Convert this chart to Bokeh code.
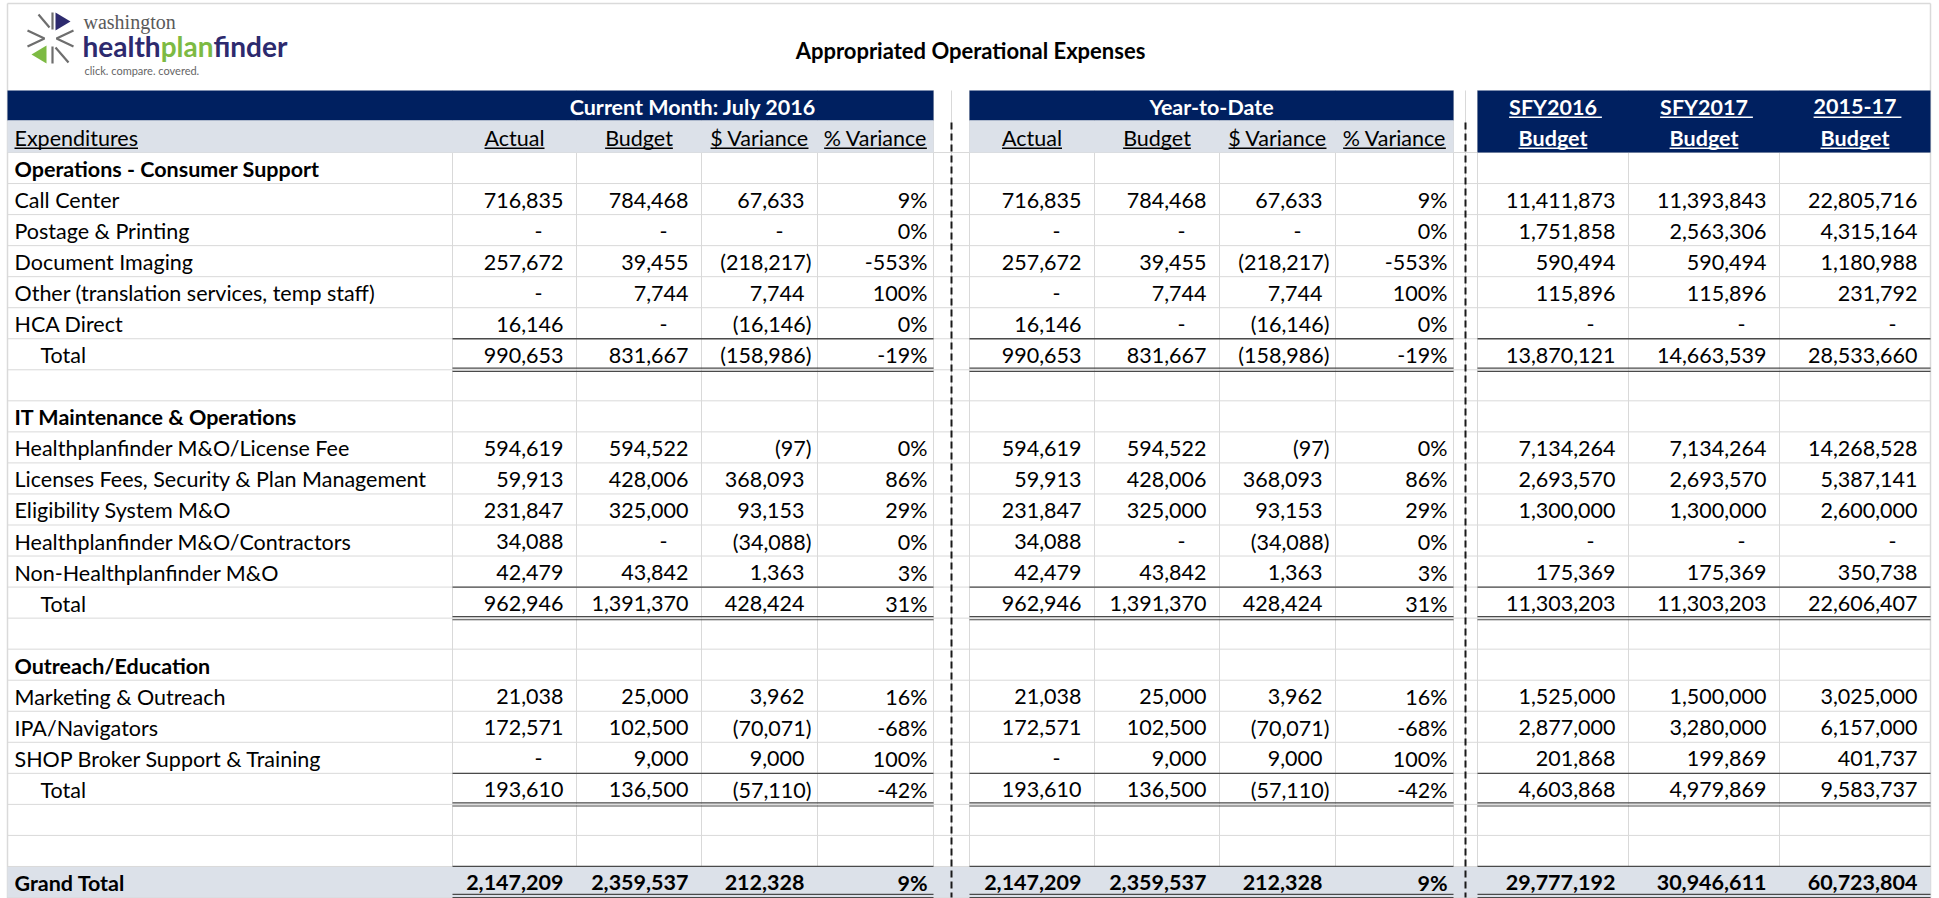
import os, glob, subprocess
from bokeh.plotting import figure
from bokeh.models import Range1d, ColumnDataSource
from bokeh.embed import file_html
from bokeh.resources import INLINE
from bokeh.core.properties import value

# ---------------- data ----------------
title = "Appropriated Operational Expenses"
group_titles = ["Current Month: July 2016", "Year-to-Date"]
col_headers = ["Actual", "Budget", "$ Variance", "% Variance"]
first_header = "Expenditures"
budget_top = ["SFY2016", "SFY2017", "2015-17"]
budget_bottom = ["Budget", "Budget", "Budget"]

row_labels = [
    "Operations - Consumer Support", "Call Center", "Postage & Printing", "Document Imaging",
    "Other (translation services, temp staff)", "HCA Direct", "Total", "",
    "IT Maintenance & Operations", "Healthplanfinder M&O/License Fee",
    "Licenses Fees, Security & Plan Management", "Eligibility System M&O",
    "Healthplanfinder M&O/Contractors", "Non-Healthplanfinder M&O", "Total", "",
    "Outreach/Education", "Marketing & Outreach", "IPA/Navigators",
    "SHOP Broker Support & Training", "Total", "", "", "Grand Total",
]
row_kind = ["section", "item", "item", "item", "item", "item", "total", "blank",
            "section", "item", "item", "item", "item", "item", "total", "blank",
            "section", "item", "item", "item", "total", "blank", "blank", "grand"]

N = None
cm_actual = [N, 716835, 0, 257672, 0, 16146, 990653, N, N, 594619, 59913, 231847, 34088, 42479, 962946, N, N, 21038, 172571, 0, 193610, N, N, 2147209]
cm_budget = [N, 784468, 0, 39455, 7744, 0, 831667, N, N, 594522, 428006, 325000, 0, 43842, 1391370, N, N, 25000, 102500, 9000, 136500, N, N, 2359537]
cm_var = [N, 67633, 0, -218217, 7744, -16146, -158986, N, N, -97, 368093, 93153, -34088, 1363, 428424, N, N, 3962, -70071, 9000, -57110, N, N, 212328]
cm_pct = [N, 9, 0, -553, 100, 0, -19, N, N, 0, 86, 29, 0, 3, 31, N, N, 16, -68, 100, -42, N, N, 9]

ytd_actual = [N, 716835, 0, 257672, 0, 16146, 990653, N, N, 594619, 59913, 231847, 34088, 42479, 962946, N, N, 21038, 172571, 0, 193610, N, N, 2147209]
ytd_budget = [N, 784468, 0, 39455, 7744, 0, 831667, N, N, 594522, 428006, 325000, 0, 43842, 1391370, N, N, 25000, 102500, 9000, 136500, N, N, 2359537]
ytd_var = [N, 67633, 0, -218217, 7744, -16146, -158986, N, N, -97, 368093, 93153, -34088, 1363, 428424, N, N, 3962, -70071, 9000, -57110, N, N, 212328]
ytd_pct = [N, 9, 0, -553, 100, 0, -19, N, N, 0, 86, 29, 0, 3, 31, N, N, 16, -68, 100, -42, N, N, 9]

sfy2016 = [N, 11411873, 1751858, 590494, 115896, 0, 13870121, N, N, 7134264, 2693570, 1300000, 0, 175369, 11303203, N, N, 1525000, 2877000, 201868, 4603868, N, N, 29777192]
sfy2017 = [N, 11393843, 2563306, 590494, 115896, 0, 14663539, N, N, 7134264, 2693570, 1300000, 0, 175369, 11303203, N, N, 1500000, 3280000, 199869, 4979869, N, N, 30946611]
b2015_17 = [N, 22805716, 4315164, 1180988, 231792, 0, 28533660, N, N, 14268528, 5387141, 2600000, 0, 350738, 22606407, N, N, 3025000, 6157000, 401737, 9583737, N, N, 60723804]

# ---------------- layout / style ----------------
FONT = "Lato"
FS = 21.5
NAVY = "#002060"
HDR_GRAY = "#DCE1E9"
GRID = "#D9D9D9"
RULE = "#4A4A4A"

X_LEFT, X_RIGHT = 7, 1930
cm_edges = [452, 576, 701, 817, 933]
ytd_edges = [969, 1094, 1219, 1335, 1453]
bud_edges = [1477, 1628, 1779, 1930]
gap_edges = [933, 951, 969, 1453, 1465, 1477]
dash_x = [951, 1465]
Y_BAND, Y_HDR, Y_ROW0, Y_END = 90, 120, 152, 897
NROWS = len(row_labels)
ROW_H = (Y_END - Y_ROW0) / NROWS


def row_top(i):
    return Y_ROW0 + i * ROW_H


def row_mid(i):
    return row_top(i) + ROW_H / 2 + 1


# ---------- font measuring (for underlines / logo word parts) ----------
def find_font(pattern, fname):
    try:
        out = subprocess.run(["fc-match", "-f", "%{file}", pattern], capture_output=True,
                             text=True, timeout=5).stdout.strip()
        if out and os.path.exists(out) and fname.split("-")[0].lower() in os.path.basename(out).lower():
            return out
    except Exception:
        pass
    for d in ["/usr/share/fonts", "/usr/local/share/fonts", os.path.expanduser("~/.fonts")]:
        hits = glob.glob(os.path.join(d, "**", fname), recursive=True)
        if hits:
            return hits[0]
    return None


_font_cache = {}


def text_w(t, size, bold=False):
    key = (bold, size)
    try:
        from PIL import ImageFont
        if key not in _font_cache:
            path = find_font("Lato:style=Bold" if bold else "Lato:style=Regular",
                             "Lato-Bold.ttf" if bold else "Lato-Regular.ttf")
            _font_cache[key] = ImageFont.truetype(path, size) if path else None
        f = _font_cache[key]
        if f is not None:
            return f.getlength(t)
    except Exception:
        pass
    return len(t) * size * (0.55 if bold else 0.5)


# ---------------- figure ----------------
p = figure(width=1939, height=898, x_range=Range1d(0, 1939), y_range=Range1d(898, 0),
           output_backend="svg", toolbar_location=None, min_border=0)
p.axis.visible = False
p.grid.visible = False
p.outline_line_color = None
p.background_fill_color = "white"
p.border_fill_color = "white"

# frame + gridlines
p.segment(x0=[X_LEFT, X_RIGHT, X_LEFT], x1=[X_LEFT, X_RIGHT, X_RIGHT], y0=[3, 3, 3], y1=[898, 898, 3],
          line_color="#DADADA", line_width=1.5)
hy = [row_top(i) for i in range(NROWS + 1)]
p.segment(x0=[X_LEFT] * len(hy), x1=[X_RIGHT] * len(hy), y0=hy, y1=hy, line_color=GRID, line_width=1)
vx = cm_edges + gap_edges + ytd_edges + bud_edges
p.segment(x0=vx, x1=vx, y0=[Y_BAND] * len(vx), y1=[Y_END] * len(vx), line_color=GRID, line_width=1)

# header fills
p.quad(left=[X_LEFT, ytd_edges[0], bud_edges[0]], right=[cm_edges[-1], ytd_edges[-1], bud_edges[-1]],
       top=[Y_BAND] * 3, bottom=[Y_HDR, Y_HDR, Y_ROW0], fill_color=NAVY, line_color=None)
p.quad(left=[X_LEFT, ytd_edges[0]], right=[cm_edges[-1], ytd_edges[-1]],
       top=[Y_HDR] * 2, bottom=[Y_ROW0] * 2, fill_color=HDR_GRAY, line_color=None)

# grand total fill
gi = row_kind.index("grand")
p.quad(left=[X_LEFT], right=[X_RIGHT], top=[row_top(gi) + 0.5], bottom=[row_top(gi + 1)],
       fill_color=HDR_GRAY, line_color=None)

# total borders
spans = [(cm_edges[0], cm_edges[-1]), (ytd_edges[0], ytd_edges[-1]), (bud_edges[0], bud_edges[-1])]
sx0, sx1, sy = [], [], []
dx0, dx1, dy = [], [], []
for i, k in enumerate(row_kind):
    if k in ("total", "grand"):
        for a, b in spans:
            sx0.append(a); sx1.append(b); sy.append(row_top(i))
            for off in (-1.6, 1.6):
                dx0.append(a); dx1.append(b); dy.append(row_top(i + 1) + off - (1.5 if k == "grand" else 0))
p.segment(x0=sx0, x1=sx1, y0=sy, y1=sy, line_color=RULE, line_width=1.3)
p.segment(x0=dx0, x1=dx1, y0=dy, y1=dy, line_color=RULE, line_width=1.2)

# dashed separators
p.segment(x0=dash_x, x1=dash_x, y0=[122, 122], y1=[Y_END, Y_END], line_color="#1A1A1A",
          line_width=2, line_dash="7 4")

# ---------------- texts ----------------
groups = {}
ul = {"x0": [], "x1": [], "y": [], "c": []}


def add_text(x, y, t, align="left", bold=False, color="#000000", size=FS, font=FONT,
             underline=False, ul_extra=0.0):
    key = (align, bold, color, size, font)
    g = groups.setdefault(key, {"x": [], "y": [], "text": []})
    g["x"].append(x); g["y"].append(y); g["text"].append(t)
    if underline:
        w = text_w(t, size, bold)
        x0 = x if align == "left" else (x - w / 2 if align == "center" else x - w)
        ul["x0"].append(x0); ul["x1"].append(x0 + w + ul_extra); ul["y"].append(y + size * 0.5)
        ul["c"].append(color)


def fmt_num(v):
    if v == 0:
        return "-"
    if v < 0:
        return "({:,})".format(-v)
    return "{:,}".format(v)


def put_num(v, right, y, bold):
    s = fmt_num(v)
    if v == 0:
        add_text(right - 38, y, s, "center", bold)
    elif v < 0:
        add_text(right - 6, y, s, "right", bold)
    else:
        add_text(right - 13, y, s, "right", bold)


# title
add_text(970, 50, title, "center", True, "#000000", 22)

# header band texts
add_text((cm_edges[0] + cm_edges[-1]) / 2, 106, group_titles[0], "center", True, "#FFFFFF")
add_text((ytd_edges[0] + ytd_edges[-1]) / 2, 106, group_titles[1], "center", True, "#FFFFFF")
add_text(14, 137, first_header, "left", underline=True)
for edges in (cm_edges, ytd_edges):
    for j, h in enumerate(col_headers):
        add_text((edges[j] + edges[j + 1]) / 2, 137, h, "center", underline=True)
for j in range(3):
    cx = (bud_edges[j] + bud_edges[j + 1]) / 2
    add_text(cx, 106, budget_top[j], "center", True, "#FFFFFF", underline=True, ul_extra=5)
    add_text(cx, 137, budget_bottom[j], "center", True, "#FFFFFF", underline=True)

# rows
num_cols = [(cm_actual, cm_edges[1]), (cm_budget, cm_edges[2]), (cm_var, cm_edges[3]),
            (ytd_actual, ytd_edges[1]), (ytd_budget, ytd_edges[2]), (ytd_var, ytd_edges[3]),
            (sfy2016, bud_edges[1]), (sfy2017, bud_edges[2]), (b2015_17, bud_edges[3])]
pct_cols = [(cm_pct, cm_edges[4]), (ytd_pct, ytd_edges[4])]
for i, lab in enumerate(row_labels):
    k = row_kind[i]
    y = row_mid(i)
    if lab:
        add_text(40 if k == "total" else 14, y, lab, "left", k in ("section", "grand"))
    bold = k == "grand"
    for arr, r in num_cols:
        if arr[i] is not None:
            put_num(arr[i], r, y, bold)
    for arr, r in pct_cols:
        if arr[i] is not None:
            add_text(r - 6, y, "{}%".format(arr[i]), "right", bold)

for key, g in groups.items():
    align, bold, color, size, font = key
    p.text(x="x", y="y", text="text", source=ColumnDataSource(g), text_align=align,
           text_baseline="middle", text_font=value(font),
           text_font_style="bold" if bold else "normal", text_color=color,
           text_font_size="{}px".format(size))
p.segment(x0=ul["x0"], x1=ul["x1"], y0=ul["y"], y1=ul["y"], line_color=ul["c"], line_width=1.4)

# ---------------- logo ----------------
LOGO_NAVY = "#2D2A6E"
LOGO_GREEN = "#7DBA43"
p.patch(x=[55, 55, 70], y=[12, 30, 21], fill_color=LOGO_NAVY, line_color=None)
p.patch(x=[46, 46, 31], y=[45, 63, 54], fill_color=LOGO_GREEN, line_color=None)
p.multi_line(xs=[[38, 49], [52, 52], [27, 44, 27], [73, 56, 73], [52, 52], [55, 68]],
             ys=[[14, 27], [12, 29], [30, 38, 46], [30, 38, 46], [46, 63], [47, 62]],
             line_color="#6E6E6E", line_width=2.2)
p.text(x=[83], y=[21], text=["washington"], text_font=value("Liberation Serif"),
       text_font_size="20px", text_color="#5A5A5A", text_baseline="middle")
LS = 28
w_health = text_w("health", LS, True)
w_plan = text_w("plan", LS, True)
parts_x = [82, 82 + w_health, 82 + w_health + w_plan]
p.text(x=parts_x, y=[45, 45, 45], text=["health", "plan", "finder"], text_font=value(FONT),
       text_font_style="bold", text_font_size="{}px".format(LS),
       text_color=[LOGO_NAVY, LOGO_GREEN, LOGO_NAVY], text_baseline="middle")
p.text(x=[84], y=[70], text=["click. compare. covered."], text_font=value(FONT),
       text_font_size="11px", text_color="#666666", text_baseline="middle")

open("out.html", "w").write(file_html(p, INLINE))
